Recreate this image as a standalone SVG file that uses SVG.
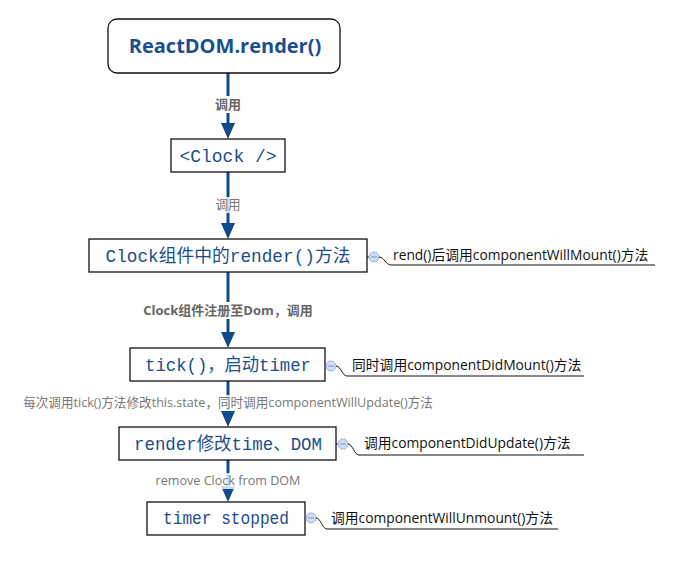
<svg xmlns="http://www.w3.org/2000/svg" width="688" height="579" viewBox="0 0 688 579">
<style>
.box{fill:#fff;stroke:#111;stroke-width:1.3}
.bt{font-family:"Liberation Mono","Noto Sans CJK SC",monospace;font-size:18px;fill:#1b4f8c;text-anchor:middle}
.edge{stroke:#0f4a8a;stroke-width:3;fill:none}
.el{font-family:"Open Sans","Noto Sans CJK SC",sans-serif;font-size:12.6px;fill:#777;text-anchor:middle}
.elb{font-weight:bold;fill:#666;font-size:13px}
.lbg{fill:#fff}
.note{font-family:"Open Sans","Noto Sans CJK SC",sans-serif;font-size:13.8px;fill:#111}
.nl{stroke:#111;stroke-width:1;fill:none}
.knob{fill:#cfdcf3;stroke:#9fb3d6;stroke-width:1}
.minus{stroke:#7f95bf;stroke-width:1}
</style>
<defs>
<marker id="ah" viewBox="0 0 16 14" refX="0" refY="7" markerWidth="16" markerHeight="14" markerUnits="userSpaceOnUse" orient="auto">
<path d="M0,0 L16,7 L0,14 Z" fill="#0f4a8a"/>
</marker>
</defs>
<rect width="688" height="579" fill="#fff"/>
<g id="connectors">
<line class="edge" x1="228" y1="73" x2="228" y2="123" marker-end="url(#ah)"/>
<line class="edge" x1="228" y1="172" x2="228" y2="223" marker-end="url(#ah)"/>
<line class="edge" x1="228" y1="272" x2="228" y2="332" marker-end="url(#ah)"/>
<line class="edge" x1="228" y1="381" x2="228" y2="411" marker-end="url(#ah)"/>
<line class="edge" x1="228" y1="460" x2="228" y2="486" marker-end="url(#ah)"/>
<rect class="lbg" x="210" y="96" width="36" height="17"/>
<text class="el elb" x="228" y="109">调用</text>
<rect class="lbg" x="212" y="197" width="32" height="16" opacity="0.8"/>
<text class="el" x="228" y="209">调用</text>
<rect class="lbg" x="138" y="302" width="182" height="17"/>
<text class="el elb" x="228" y="315">Clock组件注册至Dom，调用</text>
<rect class="lbg" x="20" y="395" width="416" height="16" opacity="0.85"/>
<text class="el" x="228" y="407">每次调用tick()方法修改this.state，同时调用componentWillUpdate()方法</text>
<rect class="lbg" x="150" y="473" width="156" height="16" opacity="0.8"/>
<text class="el" x="228" y="485">remove Clock from DOM</text>
</g>
<g id="n1">
<rect class="box" x="108" y="19" width="232" height="54" rx="9"/>
<text x="225" y="53" font-family="'Open Sans','Noto Sans',sans-serif" font-size="20" font-weight="bold" fill="#1b4f8c" text-anchor="middle">ReactDOM.render()</text>
</g>
<g id="n2">
<rect class="box" x="171" y="139" width="114" height="33"/>
<text class="bt" x="228" y="162">&lt;Clock /&gt;</text>
</g>
<g id="n3">
<rect class="box" x="89" y="239" width="278" height="33"/>
<text class="bt" x="228" y="262" textLength="245" lengthAdjust="spacingAndGlyphs">Clock组件中的render()方法</text>
<line x1="367" y1="257" x2="370" y2="257" class="nl"/>
<circle class="knob" cx="374" cy="257" r="5"/><line class="minus" x1="371" y1="257" x2="377" y2="257"/>
<path class="nl" d="M379,257 C384,257 386,265 391,265 L655,265"/>
<text class="note" x="393" y="260">rend()后调用componentWillMount()方法</text>
</g>
<g id="n4">
<rect class="box" x="130" y="348" width="195" height="33"/>
<text class="bt" x="228" y="371" textLength="166" lengthAdjust="spacingAndGlyphs">tick()，启动timer</text>
<line x1="325" y1="366" x2="327" y2="366" class="nl"/>
<circle class="knob" cx="331" cy="366" r="5"/><line class="minus" x1="328" y1="366" x2="334" y2="366"/>
<path class="nl" d="M336,366 C341,366 342,376 347,376 L584,376"/>
<text class="note" x="352" y="370">同时调用componentDidMount()方法</text>
</g>
<g id="n5">
<rect class="box" x="119" y="427" width="217" height="33"/>
<text class="bt" x="228" y="450" textLength="188" lengthAdjust="spacingAndGlyphs">render修改time、DOM</text>
<line x1="336" y1="444" x2="338" y2="444" class="nl"/>
<circle class="knob" cx="343" cy="444" r="5"/><line class="minus" x1="340" y1="444" x2="346" y2="444"/>
<path class="nl" d="M348,444 C353,444 354,455 359,455 L584,455"/>
<text class="note" x="364" y="448">调用componentDidUpdate()方法</text>
</g>
<g id="n6">
<rect class="box" x="147" y="502" width="158" height="33"/>
<text class="bt" x="226" y="524" textLength="126" lengthAdjust="spacingAndGlyphs">timer stopped</text>
<line x1="305" y1="518" x2="307" y2="518" class="nl"/>
<circle class="knob" cx="311" cy="518" r="5"/><line class="minus" x1="308" y1="518" x2="314" y2="518"/>
<path class="nl" d="M316,518 C321,518 322,529 327,529 L558,529"/>
<text class="note" x="331" y="523">调用componentWillUnmount()方法</text>
</g>
</svg>
